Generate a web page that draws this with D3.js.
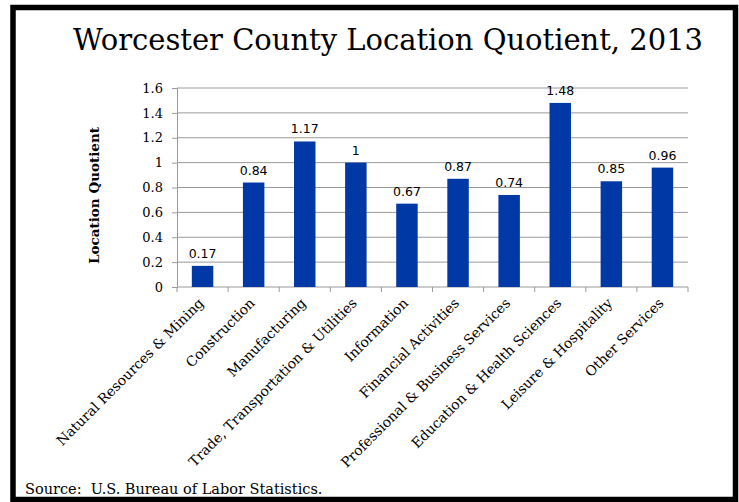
<!DOCTYPE html>
<html>
<head>
<meta charset="utf-8">
<script src="https://cdn.jsdelivr.net/npm/d3@7"></script>
<style>
  body { margin: 0; background: #fff; }
  svg { display: block; }
</style>
</head>
<body>
<svg></svg>
<script>
let categories = ['Natural Resources & Mining', 'Construction', 'Manufacturing',
    'Trade, Transportation & Utilities', 'Information', 'Financial Activities',
    'Professional & Business Services', 'Education & Health Sciences',
    'Leisure & Hospitality', 'Other Services']
let values = [0.17, 0.84, 1.17, 1, 0.67, 0.87, 0.74, 1.48, 0.85, 0.96]
let yTicks = [0, 0.2, 0.4, 0.6, 0.8, 1, 1.2, 1.4, 1.6]

let width = 739
let height = 502
let plotLeft = 177, plotRight = 688, plotTop = 88, plotBottom = 287

let svg = d3.select('svg')
    .attr('width', width)
    .attr('height', height)

// frame
svg.append('rect')
    .attr('x', 13).attr('y', 7.5)
    .attr('width', 722.5).attr('height', 492)
    .attr('fill', 'none')
    .attr('stroke', '#000')
    .attr('stroke-width', 5.5)

svg.append('text')
    .attr('x', 388).attr('y', 50)
    .attr('text-anchor', 'middle')
    .attr('font-family', 'DejaVu Serif')
    .attr('font-size', 30)
    .attr('textLength', 630)
    .attr('lengthAdjust', 'spacingAndGlyphs')
    .text('Worcester County Location Quotient, 2013')

let xscale = d3.scaleBand()
    .domain(categories)
    .range([plotLeft, plotRight])
    .padding(0)

let yscale = d3.scaleLinear()
    .domain([0, 1.6])
    .range([plotBottom, plotTop])

// gridlines
svg.append('g')
    .selectAll('line')
    .data(yTicks.filter(d => d > 0))
    .enter()
    .append('line')
    .attr('x1', plotLeft).attr('x2', plotRight)
    .attr('y1', d => yscale(d)).attr('y2', d => yscale(d))
    .attr('stroke', '#9a9a9a')
    .attr('stroke-width', 1)

// y axis
let yAxis = d3.axisLeft(yscale)
    .tickValues(yTicks)
    .tickFormat(d => String(+d.toFixed(1)))
    .tickSize(5)
    .tickPadding(9)
let gy = svg.append('g')
    .attr('transform', 'translate(' + plotLeft + ',0)')
    .call(yAxis)
gy.select('.domain').attr('stroke', '#9a9a9a')
gy.selectAll('.tick line').attr('stroke', '#9a9a9a')
gy.selectAll('.tick text')
    .attr('font-family', 'DejaVu Serif')
    .attr('font-size', 13)
    .attr('fill', '#000')

// x axis with ticks on band edges
let gx = svg.append('g')
    .attr('transform', 'translate(0,' + plotBottom + ')')
gx.append('line')
    .attr('x1', plotLeft).attr('x2', plotRight)
    .attr('stroke', '#9a9a9a')
gx.selectAll('.edge')
    .data(categories.concat(['end']))
    .enter()
    .append('line')
    .attr('x1', (d, i) => i < categories.length ? xscale(d) : plotRight)
    .attr('x2', (d, i) => i < categories.length ? xscale(d) : plotRight)
    .attr('y1', 0).attr('y2', 5)
    .attr('stroke', '#9a9a9a')

gx.selectAll('.cat')
    .data(categories)
    .enter()
    .append('text')
    .attr('transform', d => 'translate(' + (xscale(d) + xscale.bandwidth() / 2 + 2) + ',17) rotate(-45)')
    .attr('text-anchor', 'end')
    .attr('font-family', 'DejaVu Serif')
    .attr('font-size', 13.8)
    .attr('fill', '#000')
    .text(d => d)

// bars
let barW = xscale.bandwidth() * 0.42
svg.selectAll('.bar')
    .data(values)
    .enter()
    .append('rect')
    .attr('x', (d, i) => xscale(categories[i]) + (xscale.bandwidth() - barW) / 2)
    .attr('y', d => yscale(d))
    .attr('width', barW)
    .attr('height', d => plotBottom - yscale(d))
    .attr('fill', '#0039A6')

svg.selectAll('.lbl')
    .data(values)
    .enter()
    .append('text')
    .attr('x', (d, i) => xscale(categories[i]) + xscale.bandwidth() / 2)
    .attr('y', d => yscale(d) - 8)
    .attr('text-anchor', 'middle')
    .attr('font-family', 'DejaVu Sans')
    .attr('font-size', 12.5)
    .attr('fill', '#000')
    .text(d => d)

svg.append('text')
    .attr('transform', 'translate(99,' + ((plotTop + plotBottom) / 2 + 8) + ') rotate(-90)')
    .attr('text-anchor', 'middle')
    .attr('font-family', 'DejaVu Serif')
    .attr('font-weight', 'bold')
    .attr('font-size', 13.5)
    .text('Location Quotient')

svg.append('text')
    .attr('x', 25).attr('y', 494)
    .attr('font-family', 'DejaVu Serif')
    .attr('font-size', 14.5)
    .style('white-space', 'pre')
    .text('Source:  U.S. Bureau of Labor Statistics.')
</script>
</body>
</html>
